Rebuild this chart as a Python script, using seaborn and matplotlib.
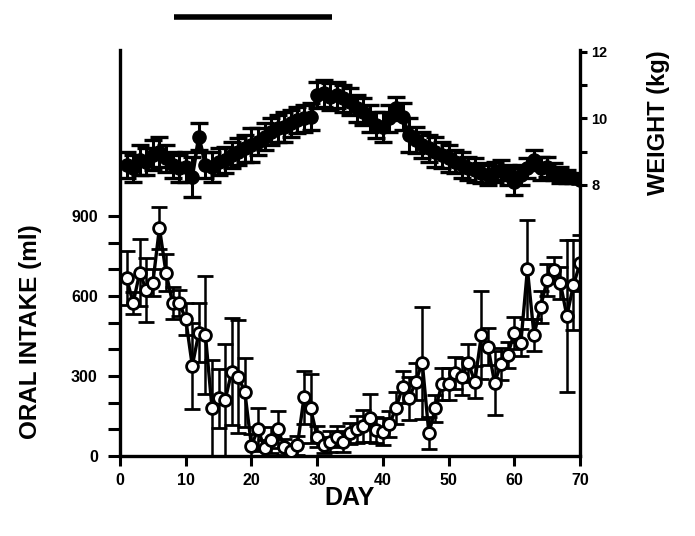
import numpy as np
import pandas as pd
import matplotlib
matplotlib.use("Agg")
import matplotlib.pyplot as plt
import matplotlib.transforms as mtransforms
import seaborn as sns

# ---------------- data ----------------
days = list(range(1, 71))

intake_ml = [667, 574, 687, 622, 650, 855, 687, 574, 574, 514,
             338, 462, 454, 179, 216, 210, 316, 298, 239, 39,
             100, 29, 60, 100, 35, 20, 40, 220, 179, 72,
             40, 54, 72, 54, 85, 100, 112, 141, 97, 91,
             120, 179, 260, 216, 279, 350, 85, 179, 270, 270,
             310, 298, 348, 279, 454, 410, 275, 345, 379, 462,
             425, 700, 454, 558, 660, 697, 650, 525, 641, 722]

intake_err = [100, 40, 125, 120, 50, 80, 70, 60, 50, 60,
              160, 110, 220, 180, 110, 210, 200, 210, 130, 45,
              80, 30, 50, 70, 30, 25, 35, 100, 130, 40,
              30, 40, 40, 40, 40, 50, 60, 90, 50, 50,
              50, 60, 60, 80, 70, 210, 60, 50, 60, 60,
              60, 70, 70, 60, 165, 70, 120, 60, 50, 60,
              50, 185, 60, 60, 60, 50, 60, 285, 170, 105]

weight_kg = [8.60, 8.50, 8.75, 8.70, 8.90, 9.00, 8.80, 8.60, 8.50, 8.55,
             8.25, 9.45, 8.60, 8.55, 8.70, 8.75, 8.90, 9.00, 9.10, 9.20,
             9.30, 9.45, 9.60, 9.70, 9.75, 9.85, 9.95, 10.00, 10.05, 10.70,
             10.75, 10.65, 10.70, 10.60, 10.50, 10.30, 10.20, 10.00, 9.80, 9.75,
             10.00, 10.30, 10.05, 9.50, 9.35, 9.20, 9.10, 9.00, 8.90, 8.80,
             8.70, 8.60, 8.50, 8.45, 8.35, 8.30, 8.40, 8.45, 8.30, 8.10,
             8.30, 8.50, 8.75, 8.50, 8.55, 8.40, 8.30, 8.25, 8.20, 8.15]

weight_err = [0.40, 0.40, 0.45, 0.40, 0.45, 0.45, 0.40, 0.40, 0.40, 0.45,
              0.60, 0.40, 0.40, 0.45, 0.40, 0.40, 0.40, 0.40, 0.40, 0.50,
              0.40, 0.40, 0.40, 0.40, 0.45, 0.40, 0.40, 0.40, 0.40, 0.40,
              0.40, 0.40, 0.40, 0.40, 0.40, 0.40, 0.40, 0.40, 0.40, 0.45,
              0.40, 0.35, 0.40, 0.50, 0.40, 0.40, 0.40, 0.45, 0.40, 0.40,
              0.35, 0.40, 0.35, 0.35, 0.30, 0.30, 0.30, 0.30, 0.30, 0.40,
              0.30, 0.30, 0.30, 0.35, 0.30, 0.25, 0.25, 0.20, 0.15, 0.10]

treatment_period = [8.2, 32.3]

x_ticks = [0, 10, 20, 30, 40, 50, 60, 70]
intake_ticks = [0, 300, 600, 900]
intake_minor = [100, 200, 400, 500, 700, 800]
weight_ticks = [8, 10, 12]
weight_minor = [9, 11]

df_intake = pd.DataFrame({"day": days, "ml": intake_ml, "err": intake_err})
df_weight = pd.DataFrame({"day": days, "kg": weight_kg, "err": weight_err})

# ---------------- style ----------------
sns.set_style("ticks")
plt.rcParams["font.family"] = ["Liberation Sans", "DejaVu Sans"]
plt.rcParams["font.weight"] = "bold"
for key in ("text.color", "axes.labelcolor", "xtick.color", "ytick.color",
            "axes.edgecolor"):
    plt.rcParams[key] = "black"

fig = plt.figure(figsize=(6.95, 5.36), dpi=100)
ax = fig.add_axes([120 / 695, 80 / 536, 460 / 695, 406 / 536])
ax2 = ax.twinx()

# intake (open circles)
ax.errorbar(df_intake["day"], df_intake["ml"], yerr=df_intake["err"], fmt="none",
            ecolor="black", elinewidth=1.8, capsize=5.5, capthick=2, zorder=2)
sns.lineplot(data=df_intake, x="day", y="ml", ax=ax, color="black", linewidth=2.4,
             marker="o", markersize=8.5, markerfacecolor="white",
             markeredgecolor="black", markeredgewidth=2, zorder=3)

# weight (filled circles)
ax2.errorbar(df_weight["day"], df_weight["kg"], yerr=df_weight["err"], fmt="none",
             ecolor="black", elinewidth=2.2, capsize=6.5, capthick=2.4, zorder=2)
sns.lineplot(data=df_weight, x="day", y="kg", ax=ax2, color="black", linewidth=2.6,
             marker="o", markersize=9.5, markerfacecolor="black",
             markeredgecolor="black", markeredgewidth=1, zorder=3)

# axes limits and ticks
ax.set_xlim(0, 70)
ax.set_ylim(0, 1522)
ax2.set_ylim(-0.14, 12.05)

ax.set_xticks(x_ticks)
ax.set_xticklabels([str(t) for t in x_ticks], fontsize=11.5, fontweight="bold")
ax.set_yticks(intake_ticks)
ax.set_yticks(intake_minor, minor=True)
ax.set_yticklabels([str(t) for t in intake_ticks], fontsize=11.5, fontweight="bold")
ax2.set_yticks(weight_ticks)
ax2.set_yticks(weight_minor, minor=True)
ax2.set_yticklabels([str(t) for t in weight_ticks], fontsize=10.5, fontweight="bold")

ax.tick_params(axis="x", direction="out", length=7, width=2.2, pad=5)
ax.tick_params(axis="y", which="both", direction="out", length=9, width=2.2, pad=7)
ax2.tick_params(axis="y", which="both", direction="out", length=5, width=2.2, pad=3)

for a in (ax, ax2):
    for side in ("left", "right", "bottom"):
        a.spines[side].set_linewidth(2.4)
        a.spines[side].set_color("black")
    a.spines["top"].set_visible(False)
ax.spines["right"].set_visible(False)
ax2.spines["left"].set_visible(False)
ax2.spines["bottom"].set_visible(False)

ax.set_xlabel("")
ax.set_ylabel("")
ax2.set_ylabel("")

# treatment bar above the plot
trans = mtransforms.blended_transform_factory(ax.transData, fig.transFigure)
ax.plot(treatment_period, [1 - 17 / 536] * 2, transform=trans, color="black",
        linewidth=4, solid_capstyle="butt", clip_on=False)

# axis labels
fig.text(31 / 695, 1 - 332 / 536, "ORAL INTAKE (ml)", rotation=90, ha="center",
         va="center", fontsize=17.5, fontweight="bold")
fig.text(659 / 695, 1 - 123 / 536, "WEIGHT (kg)", rotation=90, ha="center",
         va="center", fontsize=17, fontweight="bold")
fig.text(350 / 695, 1 - 498 / 536, "DAY", ha="center", va="center",
         fontsize=18, fontweight="bold")

fig.savefig("out.png", dpi=100, facecolor="white")
